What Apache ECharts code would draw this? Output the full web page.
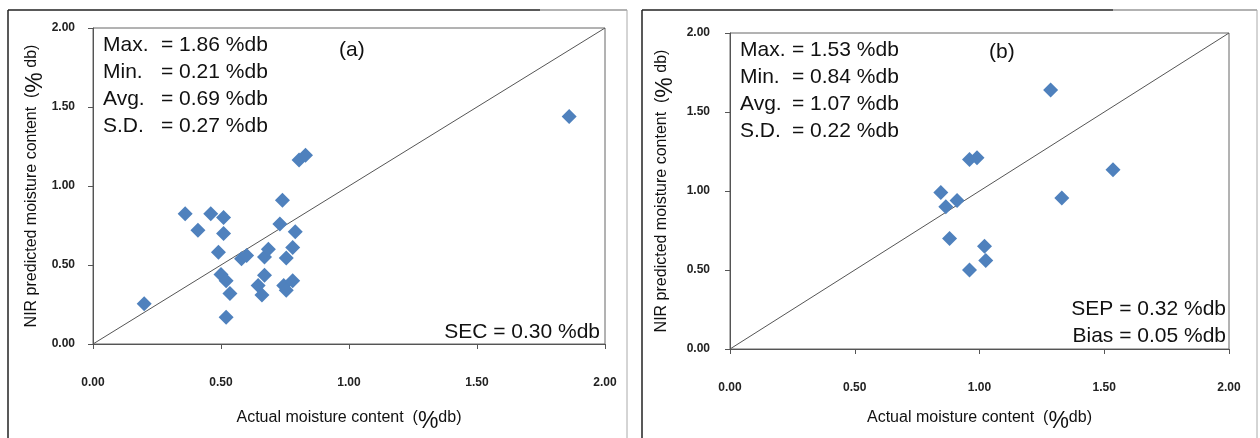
<!DOCTYPE html>
<html>
<head>
<meta charset="utf-8">
<script src="https://cdn.jsdelivr.net/npm/echarts@6/dist/echarts.min.js"></script>
<style>
html,body{margin:0;padding:0;background:#fff;}
#chart{width:1260px;height:438px;}
</style>
</head>
<body>
<div id="chart"></div>
<script>
// calibration set (a): actual vs NIR predicted moisture (%db)
const actualA = [0.20,0.36,0.41,0.46,0.51,0.51,0.49,0.50,0.52,0.535,0.52,0.58,0.60,0.67,0.685,0.67,0.645,0.66,0.74,0.73,0.79,0.78,0.755,0.745,0.755,0.78,0.805,0.83,1.86]
const predictedA = [0.255,0.825,0.72,0.825,0.80,0.70,0.58,0.44,0.40,0.32,0.17,0.54,0.56,0.55,0.60,0.435,0.37,0.31,0.91,0.76,0.71,0.61,0.545,0.37,0.34,0.40,1.165,1.195,1.44]
// prediction set (b)
const actualB = [1.285,0.96,0.99,0.845,0.91,0.865,1.33,0.88,1.02,1.025,0.96,1.535]
const predictedB = [1.64,1.20,1.21,0.99,0.94,0.90,0.955,0.70,0.65,0.56,0.50,1.135]
// 1:1 reference line
const oneToOne = [[0,0],[2,2]]
const axisTicks = [0,0.5,1,1.5,2]
const statsLabels = ['Max.','Min.','Avg.','S.D.']
const statsA = ['= 1.86 %db','= 0.21 %db','= 0.69 %db','= 0.27 %db']
const statsB = ['= 1.53 %db','= 0.84 %db','= 1.07 %db','= 0.22 %db']

const chart = echarts.init(document.getElementById('chart'))
const font = 'Liberation Sans, Arial, sans-serif'
const dotColor = '#4F81BD'

function valueAxis(gridIndex, name, nameGap, labelMargin){
    return {
        type:'value',
        gridIndex:gridIndex,
        min:axisTicks[0],
        max:axisTicks[axisTicks.length-1],
        interval:axisTicks[1]-axisTicks[0],
        name:name,
        nameLocation:'middle',
        nameGap:nameGap,
        nameTextStyle:{
            fontFamily:font,
            fontSize:16,
            color:'#111',
            rich:{
                pct:{fontSize:23,fontFamily:font,color:'#111',padding:[8,0,0,0]}
            }
        },
        axisLine:{show:true,lineStyle:{color:'#555',width:1}},
        axisTick:{show:true,inside:false,length:5,lineStyle:{color:'#555'}},
        axisLabel:{
            margin:labelMargin,
            fontFamily:font,
            fontSize:12,
            fontWeight:'bold',
            color:'#222',
            formatter:v=>v.toFixed(2)
        },
        splitLine:{show:false}
    }
}

const xName = 'Actual moisture content  ({pct|%}db)'
const yName = 'NIR predicted moisture content  ({pct|%} db)'

function textItem(x, y, text, align){
    return {
        type:'text',
        x:x,
        y:y,
        z:100,
        style:{
            text:text,
            font:'21px ' + font,
            fill:'#111',
            align:align || 'left',
            verticalAlign:'middle'
        }
    }
}

const graphics = []
// panel frames (cropped screenshot borders)
graphics.push({type:'line',shape:{x1:8,y1:10,x2:540,y2:10},style:{stroke:'#222',lineWidth:1.5}})
graphics.push({type:'line',shape:{x1:540,y1:10,x2:627,y2:10},style:{stroke:'#999',lineWidth:1.5}})
graphics.push({type:'line',shape:{x1:8,y1:10,x2:8,y2:438},style:{stroke:'#222',lineWidth:1.5}})
graphics.push({type:'line',shape:{x1:627,y1:10,x2:627,y2:438},style:{stroke:'#aaa',lineWidth:1}})
graphics.push({type:'line',shape:{x1:642,y1:10,x2:1113,y2:10},style:{stroke:'#222',lineWidth:1.5}})
graphics.push({type:'line',shape:{x1:1113,y1:10,x2:1257,y2:10},style:{stroke:'#999',lineWidth:1.5}})
graphics.push({type:'line',shape:{x1:642,y1:10,x2:642,y2:438},style:{stroke:'#222',lineWidth:1.5}})
graphics.push({type:'line',shape:{x1:1257,y1:10,x2:1257,y2:438},style:{stroke:'#aaa',lineWidth:1}})

const rowsA = [45,72,99,126]
const rowsB = [50,77,104,131]
statsLabels.forEach((lab,i)=>{
    graphics.push(textItem(103,rowsA[i],lab))
    graphics.push(textItem(161,rowsA[i],statsA[i]))
    graphics.push(textItem(740,rowsB[i],lab))
    graphics.push(textItem(792,rowsB[i],statsB[i]))
})
graphics.push(textItem(339,50,'(a)'))
graphics.push(textItem(989,52,'(b)'))
graphics.push(textItem(600,332,'SEC = 0.30 %db','right'))
graphics.push(textItem(1226,309,'SEP = 0.32 %db','right'))
graphics.push(textItem(1226,336,'Bias = 0.05 %db','right'))

const option = {
    backgroundColor:'#fff',
    animation:false,
    grid:[
        {left:93,top:28,width:512,height:322,show:true,borderColor:'#666',borderWidth:1,backgroundColor:'transparent'},
        {left:730,top:33,width:499,height:319,show:true,borderColor:'#666',borderWidth:1,backgroundColor:'transparent'}
    ],
    xAxis:[
        valueAxis(0,xName,58,33),
        valueAxis(1,xName,53,33)
    ],
    yAxis:[
        valueAxis(0,yName,46,18),
        valueAxis(1,yName,53,20)
    ],
    series:[
        {
            type:'line',
            xAxisIndex:0,
            yAxisIndex:0,
            data:oneToOne,
            symbol:'none',
            lineStyle:{color:'#555',width:1},
            z:1
        },
        {
            type:'scatter',
            xAxisIndex:0,
            yAxisIndex:0,
            data:actualA.map((v,i)=>[v,predictedA[i]]),
            symbol:'diamond',
            symbolSize:15,
            itemStyle:{color:dotColor,opacity:1},
            z:2
        },
        {
            type:'line',
            xAxisIndex:1,
            yAxisIndex:1,
            data:oneToOne,
            symbol:'none',
            lineStyle:{color:'#555',width:1},
            z:1
        },
        {
            type:'scatter',
            xAxisIndex:1,
            yAxisIndex:1,
            data:actualB.map((v,i)=>[v,predictedB[i]]),
            symbol:'diamond',
            symbolSize:15,
            itemStyle:{color:dotColor,opacity:1},
            z:2
        }
    ],
    graphic:graphics
}
chart.setOption(option)
</script>
</body>
</html>
